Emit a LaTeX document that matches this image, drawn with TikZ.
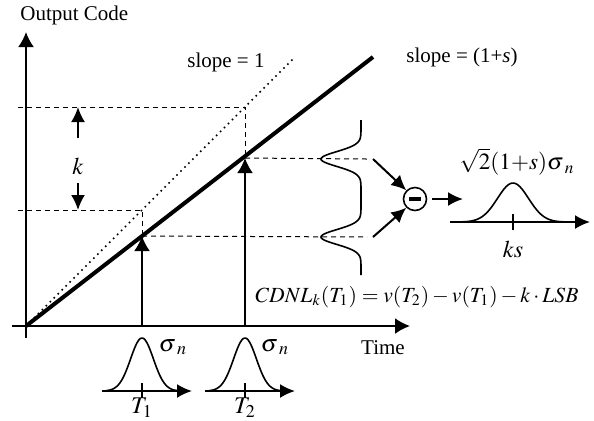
\documentclass[tikz,border=0pt]{standalone}
\usepackage{mathptmx}
\usepackage{fontspec}
\setmainfont{Liberation Serif}
\usetikzlibrary{arrows.meta}
\tikzset{
  ax/.style={line width=1pt},
  bigarr/.style={line width=1pt,-{Latex[length=7.5pt,width=8pt]}},
  smarr/.style={line width=1pt,-{Latex[length=7.5pt,width=7pt]}},
  guide/.style={dashed,line width=0.5pt,dash pattern=on 2.5pt off 2pt},
  lbl/.style={font=\fontsize{10.5}{12}\selectfont,inner sep=0pt},
  mlbl/.style={font=\fontsize{12}{14}\selectfont,inner sep=0pt},
  eqlbl/.style={font=\fontsize{10.8}{13}\selectfont,inner sep=0pt},
  reslbl/.style={font=\fontsize{11.6}{13}\selectfont,inner sep=0pt},
  curve/.style={line width=0.8pt},
}
\begin{document}
\begin{tikzpicture}[x=0.5pt,y=-0.5pt]
\useasboundingbox (0,0) rectangle (594,420);
% axes
\coordinate (O) at (26,326);
\coordinate (ytop) at (26,32);
\coordinate (ybot) at (26,338);
\coordinate (xleft) at (12,326);
\coordinate (xright) at (410,326);
\draw[bigarr] (ybot) -- (ytop);
\draw[bigarr] (xleft) -- (xright);
\node[lbl,anchor=west] (oc) at (20,15) {Output Code};
\node[lbl] (time) at (383,348) {Time};
% lines
\coordinate (dotend) at (295,57);
\coordinate (thickend) at (373,57);
\draw[line width=0.8pt,dotted] (O) -- (dotend);
\draw[line width=2pt] (O) -- (thickend);
\node[lbl] (s1) at (226,62) {slope = 1};
\node[lbl] (s2) at (462,57) {slope = (1+\textit{s})};
% key points
\coordinate (A1) at (142,236);
\coordinate (A2) at (245,158);
\coordinate (D1) at (142,210);
\coordinate (D2) at (245,107);
\coordinate (B1) at (142,326);
\coordinate (B2) at (245,326);
% dashed guides
\draw[guide] (18,210) -- (D1) -- (A1);
\draw[guide] (18,107) -- (D2) -- (A2);
\draw[guide] (A1) -- (367,237);
\draw[guide] (A2) -- (367,159);
% k arrows
\coordinate (ku) at (78,138);
\coordinate (kd) at (78,183);
\draw[smarr] (ku) -- (78,107);
\draw[smarr] (kd) -- (78,210);
\node[mlbl] (k) at (78,166) {$k$};
% vertical arrows
\draw[bigarr] (B1) -- (A1);
\draw[bigarr] (B2) -- (A2);
% bottom gaussians
\foreach \cx/\nm in {142/1,245/2}{
  \draw[smarr] (\cx-40,391) -- (\cx+50,391);
  \draw[line width=0.8pt] (\cx,383) -- (\cx,398);
  \draw[curve] plot[domain=-36:36,samples=60,smooth] ({\cx+\x},{391-53*exp(-(\x*\x)/260)});
}
\node[mlbl] (t1) at (142,408) {$T_1$};
\node[mlbl] (t2) at (245,408) {$T_2$};
\node[mlbl] (sg1) at (173,347) {$\sigma\mkern1mu_n$};
\node[mlbl] (sg2) at (275,347) {$\sigma\mkern1mu_n$};
% sideways double gaussian
\draw[curve] plot[domain=120:275,samples=160,smooth] ({361-40*(exp(-((\x-159)*(\x-159))/110)+exp(-((\x-237)*(\x-237))/110))},\x);
% subtraction
\node[circle,draw,line width=0.8pt,minimum size=11.5pt,inner sep=0pt] (minus) at (415,199) {};
\draw[line width=1.6pt] (409,199) -- (421,199);
\coordinate (u1) at (373,159);
\coordinate (u2) at (373,237);
\draw[smarr] (u1) -- (minus.north west);
\draw[smarr] (u2) -- (minus.south west);
\coordinate (r1) at (463,199);
\draw[smarr] (minus.east) ++(5,0) -- (r1);
% output gaussian
\draw[smarr] (450,222) -- (590,222);
\draw[line width=0.8pt] (513,214) -- (513,230);
\draw[curve] plot[domain=-58:58,samples=60,smooth] ({513+\x},{222-39*exp(-(\x*\x)/480)});
\node[reslbl] (res) at (517,162) {$\sqrt{2}(1{+}s)\sigma\mkern1mu_n$};
\node[mlbl] (ks) at (513,249) {$ks$};
\node[eqlbl] (eq) at (417,297) {$CDNL_k(T_1) = v(T_2) - v(T_1) - k\cdot LSB$};
\end{tikzpicture}
\end{document}
